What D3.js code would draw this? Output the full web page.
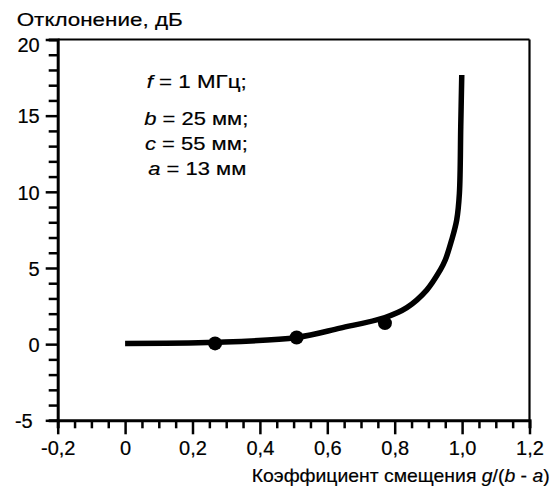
<!DOCTYPE html>
<html><head><meta charset="utf-8">
<script src="https://cdn.jsdelivr.net/npm/d3@7"></script>
<style>body{margin:0;background:#fff}text{font-family:"Liberation Sans",Arial,sans-serif;fill:#000;stroke:#000;stroke-width:0.2px}</style>
</head><body><svg id="c" width="559" height="495"></svg>
<script>
const curveX = [0, 0.267, 0.509, 0.638, 0.771, 0.836, 0.895, 0.935, 0.950, 0.969, 0.984, 0.992, 0.996, 0.999];
const curveY = [0.05, 0.12, 0.44, 1.05, 1.75, 2.4, 3.55, 4.86, 5.52, 6.83, 8.15, 9.90, 14.28, 17.67];
const dotX = [0.267, 0.509, 0.771];
const dotY = [0.05, 0.44, 1.38];
const xTicks = [-0.2, 0, 0.2, 0.4, 0.6, 0.8, 1.0, 1.2];
const xTickLabels = ["-0,2", "0", "0,2", "0,4", "0,6", "0,8", "1,0", "1,2"];
const yTicks = [-5, 0, 5, 10, 15, 20];
const yTickLabels = ["-5", "0", "5", "10", "15", "20"];

const svg = d3.select("#c");
const L = 57.7, R = 529.5, T = 39.5, B = 420.3;
const x = d3.scaleLinear().domain([-0.2, 1.2]).range([L, R]);
const y = d3.scaleLinear().domain([-5, 20]).range([B, T]);

// frame top & right
svg.append("line").attr("x1", L).attr("x2", R).attr("y1", T).attr("y2", T).attr("stroke", "#000").attr("stroke-width", 2.2);
svg.append("line").attr("x1", R).attr("x2", R).attr("y1", T).attr("y2", B).attr("stroke", "#000").attr("stroke-width", 2.2);

// y axis
const yMinor = d3.range(-5, 20.001, 1);
const gy = svg.append("g").attr("transform", `translate(${L},0)`);
gy.call(d3.axisLeft(y).tickValues(yMinor).tickSize(9).tickFormat(""));
gy.selectAll(".tick line").attr("stroke-width", 2.5);
gy.selectAll(".tick").filter(d => yTicks.includes(d)).select("line").attr("x2", -12);
gy.select(".domain").attr("stroke-width", 3);
gy.selectAll(".tick").filter(d => yTicks.includes(d)).append("text")
  .attr("x", d => d === -5 ? -25 : -18)
  .attr("dy", d => d === 20 ? "0.6em" : "0.36em")
  .attr("text-anchor", "end").attr("font-size", 20)
  .text(d => yTickLabels[yTicks.indexOf(d)]);

// x axis
const xMinor = d3.range(-0.2, 1.2001, 0.05).map(v => Math.round(v * 100) / 100);
const gx = svg.append("g").attr("transform", `translate(0,${B})`);
gx.call(d3.axisBottom(x).tickValues(xMinor).tickSize(8).tickFormat(""));
gx.selectAll(".tick line").attr("stroke-width", 2.5);
const isMajorX = d => xTicks.some(t => Math.abs(t - d) < 1e-6);
gx.selectAll(".tick").filter(isMajorX).select("line").attr("y2", 14);
gx.select(".domain").attr("stroke-width", 3);
gx.selectAll(".tick").filter(isMajorX).append("text")
  .attr("y", 35).attr("text-anchor", "middle").attr("font-size", 20)
  .text(d => xTickLabels[xTicks.findIndex(t => Math.abs(t - d) < 1e-6)]);
svg.selectAll(".domain").attr("stroke", "#000");
svg.selectAll(".tick line").attr("stroke", "#000");

// curve
const pts = curveX.map((v, i) => [v, curveY[i]]);
svg.append("path").datum(pts)
  .attr("d", d3.line().x(d => x(d[0])).y(d => y(d[1])).curve(d3.curveCatmullRom.alpha(0.5)))
  .attr("fill", "none").attr("stroke", "#000").attr("stroke-width", 5.5).attr("stroke-linecap", "butt");
svg.selectAll("circle.dot").data(dotX.map((v, i) => [v, dotY[i]])).enter().append("circle")
  .attr("cx", d => x(d[0])).attr("cy", d => y(d[1])).attr("r", 7).attr("fill", "#000");

// titles
svg.append("text").attr("x", 16.7).attr("y", 26).attr("font-size", 19)
  .attr("textLength", 166).attr("lengthAdjust", "spacingAndGlyphs").text("Отклонение, дБ");
const xt = svg.append("text").attr("x", 251.7).attr("y", 482).attr("font-size", 19)
  .attr("textLength", 298).attr("lengthAdjust", "spacingAndGlyphs");
xt.append("tspan").text("Коэффициент смещения ");
xt.append("tspan").attr("font-style", "italic").text("g");
xt.append("tspan").text("/(");
xt.append("tspan").attr("font-style", "italic").text("b");
xt.append("tspan").text(" - ");
xt.append("tspan").attr("font-style", "italic").text("a");
xt.append("tspan").text(")");

// annotation
const notes = [["f", " = 1 МГц;", 88, 146.7, 100], ["b", " = 25 мм;", 125, 144.3, 104], ["c", " = 55 мм;", 150, 145, 103], ["a", " = 13 мм", 175, 148.3, 98]];
notes.forEach(n => {
  const t = svg.append("text").attr("x", n[3]).attr("y", n[2]).attr("font-size", 19)
    .attr("textLength", n[4]).attr("lengthAdjust", "spacingAndGlyphs");
  t.append("tspan").attr("font-style", "italic").text(n[0]);
  t.append("tspan").text(n[1]);
});
</script></body></html>
